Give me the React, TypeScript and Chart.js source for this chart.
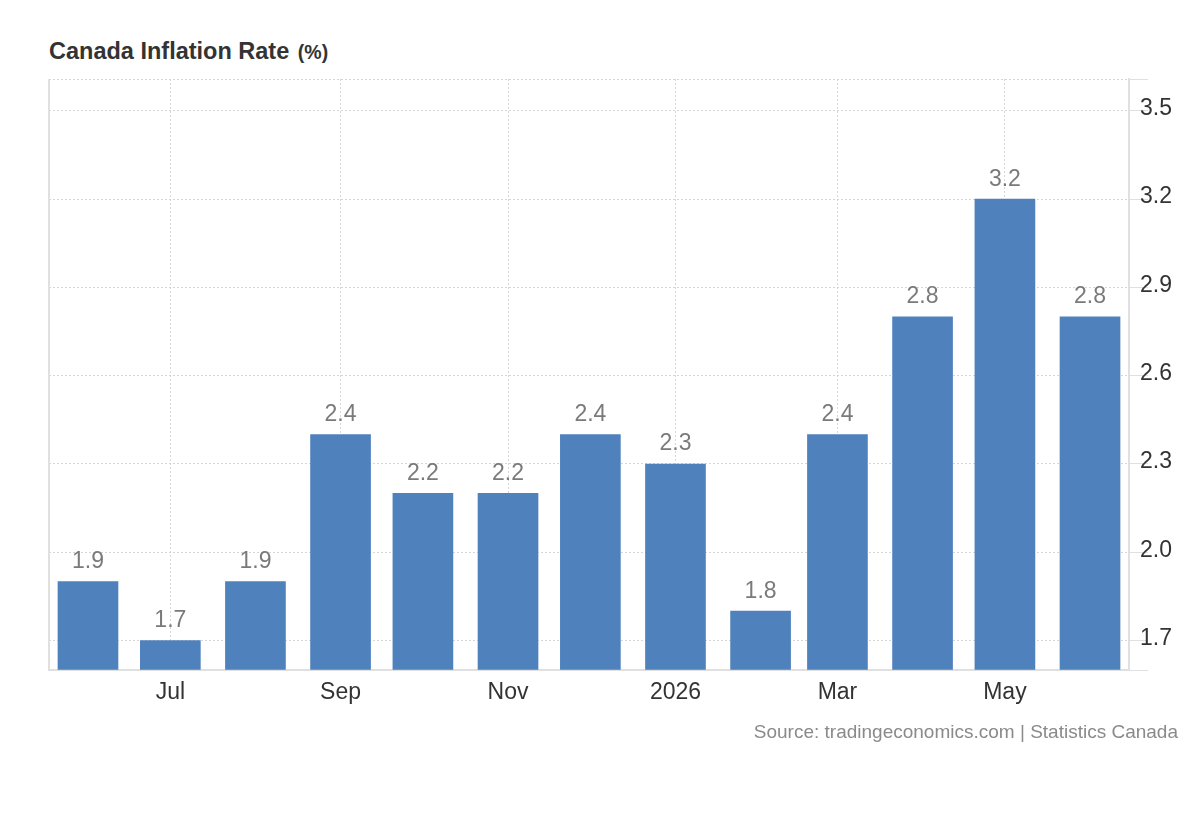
import React, { useEffect, useRef } from "react";
import { Chart, registerables } from "chart.js";

Chart.register(...registerables);

// ---- data ----
const months: string[] = [
  "2025-06", "2025-07", "2025-08", "2025-09", "2025-10", "2025-11", "2025-12",
  "2026-01", "2026-02", "2026-03", "2026-04", "2026-05", "2026-06",
];
const inflation: number[] = [1.9, 1.7, 1.9, 2.4, 2.2, 2.2, 2.4, 2.3, 1.8, 2.4, 2.8, 3.2, 2.8];
const xTickMonths: string[] = ["2025-07", "2025-09", "2025-11", "2026-01", "2026-03", "2026-05"];
const xTickLabels: string[] = ["Jul", "Sep", "Nov", "2026", "Mar", "May"];
const yTicks: number[] = [1.7, 2.0, 2.3, 2.6, 2.9, 3.2, 3.5];
const yMin = 1.6;
const yMax = 3.608;

const FONT = "'Liberation Sans', Arial, Helvetica, sans-serif";
const BAR_COLOR = "#4f81bd";
const GRID_COLOR = "#d6d6d6";
const AXIS_COLOR = "#e0e0e0";

const toDay = (ym: string): number => {
  const [y, m] = ym.split("-").map(Number);
  return Date.UTC(y, m - 1, 1) / 86400000;
};

const xPad = 14.2; // days of padding each side

export default function App() {
  const canvasRef = useRef<HTMLCanvasElement | null>(null);

  useEffect(() => {
    const canvas = canvasRef.current;
    if (!canvas) return;
    const points = months.map((m, i) => ({ x: toDay(m), y: inflation[i] }));
    const tickDays = xTickMonths.map(toDay);

    const valueLabels = {
      id: "valueLabels",
      afterDatasetsDraw(chart: any) {
        const ctx = chart.ctx;
        const meta = chart.getDatasetMeta(0);
        ctx.save();
        ctx.font = `23px ${FONT}`;
        ctx.fillStyle = "#7a7a7a";
        ctx.textAlign = "center";
        ctx.textBaseline = "alphabetic";
        meta.data.forEach((el: any, i: number) => {
          ctx.fillText(inflation[i].toFixed(1), el.x, el.y - 13.5);
        });
        ctx.restore();
      },
    };

    const leftBorder = {
      id: "leftBorder",
      afterDraw(chart: any) {
        const { ctx, chartArea } = chart;
        ctx.save();
        ctx.strokeStyle = AXIS_COLOR;
        ctx.lineWidth = 2;
        ctx.beginPath();
        ctx.moveTo(chartArea.left, chartArea.top);
        ctx.lineTo(chartArea.left, chartArea.bottom);
        ctx.stroke();
        ctx.restore();
      },
    };

    const chart = new Chart(canvas, {
      type: "bar",
      data: {
        datasets: [
          {
            data: points as any,
            backgroundColor: BAR_COLOR,
            barThickness: 60,
            base: yMin,
          } as any,
        ],
      },
      options: {
        animation: false,
        responsive: false,
        devicePixelRatio: 1,
        layout: { padding: { left: 49, top: 79, right: 0, bottom: 0 } },
        plugins: {
          legend: { display: false },
          tooltip: { enabled: false },
          title: { display: false },
        },
        scales: {
          x: {
            type: "linear",
            offset: false,
            min: toDay(months[0]) - xPad,
            max: toDay(months[months.length - 1]) + xPad,
            afterBuildTicks: (scale: any) => {
              scale.ticks = tickDays.map((v) => ({ value: v }));
            },
            afterFit: (scale: any) => {
              scale.height = 150;
            },
            ticks: {
              autoSkip: false,
              maxRotation: 0,
              padding: 9,
              color: "#333333",
              font: { family: FONT, size: 23 },
              callback: (v: any) => {
                const idx = tickDays.indexOf(Number(v));
                return idx >= 0 ? xTickLabels[idx] : "";
              },
            },
            grid: {
              offset: false,
              drawTicks: false,
              color: GRID_COLOR,
              lineWidth: 1,
            } as any,
            border: { display: true, color: AXIS_COLOR, width: 2, dash: [2, 2] } as any,
          },
          y: {
            type: "linear",
            position: "right",
            min: yMin,
            max: yMax,
            afterBuildTicks: (scale: any) => {
              scale.ticks = [yMin, ...yTicks, yMax].map((v) => ({ value: v }));
            },
            afterFit: (scale: any) => {
              scale.width = 71;
            },
            ticks: {
              autoSkip: false,
              padding: -8,
              labelOffset: -2,
              color: "#333333",
              font: { family: FONT, size: 23 },
              callback: (v: any) => {
                const n = Number(v);
                return yTicks.some((t) => Math.abs(t - n) < 1e-9) ? n.toFixed(1) : "";
              },
            },
            grid: {
              drawTicks: true,
              tickLength: 19,
              tickColor: AXIS_COLOR,
              tickBorderDash: [],
              color: GRID_COLOR,
              lineWidth: 1,
            } as any,
            border: { display: true, color: AXIS_COLOR, width: 2, dash: [2, 2] } as any,
          },
        },
      },
      plugins: [valueLabels, leftBorder],
    } as any);

    return () => chart.destroy();
  }, []);

  return (
    <div
      style={{
        position: "absolute",
        left: 0,
        top: 0,
        width: 1200,
        height: 820,
        background: "#ffffff",
        fontFamily: FONT,
      }}
    >
      <div
        style={{
          position: "absolute",
          left: 49,
          top: 40,
          fontSize: 23.5,
          lineHeight: 1,
          fontWeight: "bold",
          color: "#333333",
          whiteSpace: "nowrap",
        }}
      >
        Canada Inflation Rate{" "}
        <span style={{ fontSize: 19.5, marginLeft: 2 }}>(%)</span>
      </div>
      <canvas
        ref={canvasRef}
        width={1200}
        height={820}
        style={{ position: "absolute", left: 0, top: 0, width: 1200, height: 820 }}
      />
      <div
        style={{
          position: "absolute",
          right: 22,
          top: 722,
          fontSize: 19,
          lineHeight: 1,
          color: "#8a8a8a",
          whiteSpace: "nowrap",
        }}
      >
        Source: tradingeconomics.com | Statistics Canada
      </div>
    </div>
  );
}
